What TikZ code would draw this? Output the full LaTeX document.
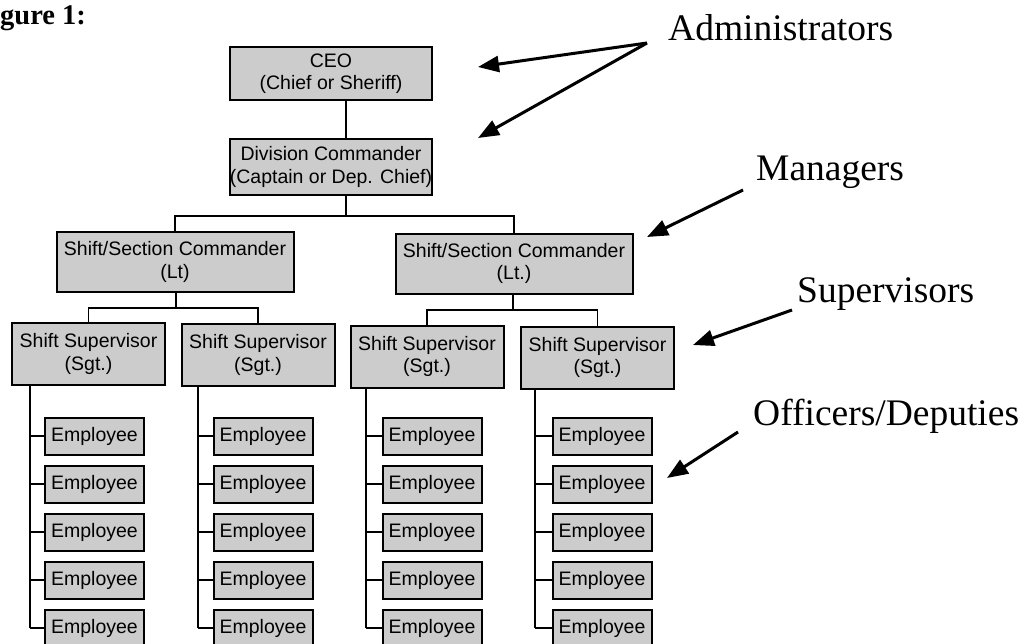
\documentclass[tikz,border=0pt]{standalone}
\usepackage{fontspec}
\setmainfont{Liberation Serif}
\newfontfamily\boxfont{Liberation Sans}
\usetikzlibrary{arrows.meta}
\begin{document}
\begin{tikzpicture}[x=1pt,y=-1pt,
  box/.style={draw=black, line width=2pt, fill=black!20, inner sep=0pt, align=center,
              font=\boxfont\fontsize{19.5}{22.5}\selectfont},
  topbox/.style={box, minimum width=202pt},
  ltbox/.style={box, minimum width=237pt, minimum height=60pt},
  sgtbox/.style={box, minimum width=153pt, minimum height=62pt},
  emp/.style={box, minimum width=99pt, minimum height=37pt},
  link/.style={line width=1.6pt},
  callout/.style={line width=3pt, -{Triangle[length=21pt,width=16pt]}},
  lbl/.style={font=\fontsize{37.5}{40}\selectfont, anchor=base west, inner sep=0pt}]
\useasboundingbox (0,0) rectangle (1025,643);

\node[font=\bfseries\fontsize{28.5}{30}\selectfont, anchor=base west, inner sep=0pt] (fig) at (0,24) {gure 1:};

% top levels
\node[topbox, minimum height=53pt] (ceo) at (331,73.5) {CEO\\(Chief or Sheriff)};
\node[topbox, minimum height=56pt] (div) at (331,167) {Division Commander\\(Captain or Dep. Chief)};
\coordinate (mid) at (346,216);
\draw[link] (ceo.south -| mid) -- (div.north -| mid);

\node[ltbox] (lt1) at (175,262) {Shift/Section Commander\\(Lt)};
\node[ltbox] (lt2) at (514,263.5) {Shift/Section Commander\\(Lt.)};
\draw[link] (div.south -| mid) -- (mid);
\draw[link] (lt1.north) |- (mid) -| (lt2.north);

\node[sgtbox] (s1) at (88.5,354) {Shift Supervisor\\(Sgt.)};
\node[sgtbox] (s2) at (258,355) {Shift Supervisor\\(Sgt.)};
\node[sgtbox] (s3) at (427,356.5) {Shift Supervisor\\(Sgt.)};
\node[sgtbox] (s4) at (597.5,357.5) {Shift Supervisor\\(Sgt.)};

\coordinate (b1) at (176,308);
\coordinate (b2) at (513,310);
\draw[link] (lt1.south -| b1) -- (b1);
\draw[link] (s1.north) |- (b1) -| (s2.north);
\draw[link] (lt2.south -| b2) -- (b2);
\draw[link] (s3.north) |- (b2) -| (s4.north);

% employees
\foreach \c/\ex/\tx in {1/94.5/30, 2/263/198, 3/432/366, 4/602/535}{
  \coordinate (t\c) at (\tx,400);
  \foreach \r/\ey in {1/436, 2/484, 3/532, 4/580, 5/628}{
    \node[emp] (e\c\r) at (\ex,\ey) {Employee};
    \draw[link] (e\c\r.west -| t\c) -- (e\c\r.west);
  }
  \draw[link] (s\c.south -| t\c) -- (e\c5.west -| t\c);
}

% labels and callouts
\node[lbl] (adm) at (668,40) {Administrators};
\node[lbl] (man) at (756,180) {Managers};
\node[lbl] (sup) at (797,302) {Supervisors};
\node[lbl] (off) at (753,425) {Officers/Deputies};

\coordinate (pa) at (647,43);
\coordinate (pm) at (743,190);
\coordinate (ps) at (792,310);
\coordinate (po) at (738,432);
\coordinate (ta1) at (478,67);
\coordinate (ta2) at (478,138);
\coordinate (tm) at (647,237);
\coordinate (ts) at (693,345);
\coordinate (to) at (667,478);

\draw[callout] (pa) -- (ta1);
\draw[callout] (pa) -- (ta2);
\draw[callout] (pm) -- (tm);
\draw[callout] (ps) -- (ts);
\draw[callout] (po) -- (to);
\end{tikzpicture}
\end{document}
